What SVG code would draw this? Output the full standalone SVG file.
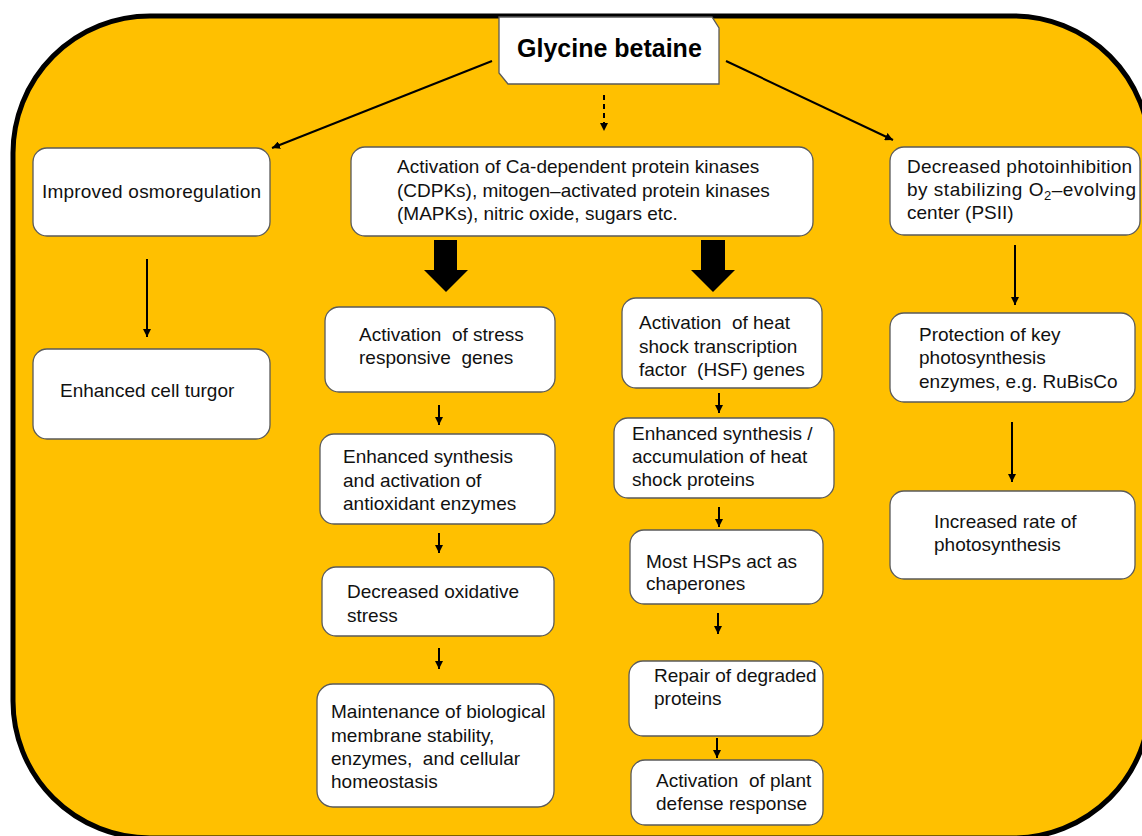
<svg xmlns="http://www.w3.org/2000/svg" width="1142" height="836" viewBox="0 0 1142 836">
<defs>
<style>
.box{fill:#fff;stroke:#5a5a5a;stroke-width:1.3}
.t{font-family:"Liberation Sans",Arial,sans-serif;font-size:19px;fill:#111;white-space:pre}
.title{font-family:"Liberation Sans",Arial,sans-serif;font-size:25px;font-weight:bold;fill:#000}
.ln{stroke:#000;stroke-width:2;fill:none}
.blk{fill:#000}
</style>
<marker id="ah" markerUnits="userSpaceOnUse" markerWidth="9" markerHeight="8" refX="8" refY="4" orient="auto">
<path d="M0,0 L8,4 L0,8 z" fill="#000"/>
</marker>
</defs>
<rect x="0" y="0" width="1142" height="836" fill="#fff"/>
<rect id="frame" x="13" y="16" width="1137" height="822" rx="137" ry="137" fill="#FFC000" stroke="#000" stroke-width="5"/>

<g id="connectors">
<line class="ln" x1="492" y1="61" x2="272" y2="148" stroke-width="1.6" marker-end="url(#ah)"/>
<line class="ln" x1="726" y1="61" x2="893" y2="140" stroke-width="1.6" marker-end="url(#ah)"/>
<line class="ln" x1="604" y1="95" x2="604" y2="131" stroke-dasharray="5,4" stroke-width="1.6" marker-end="url(#ah)"/>
<line class="ln" x1="147" y1="259" x2="147" y2="337" marker-end="url(#ah)"/>
<line class="ln" x1="1015" y1="245" x2="1015" y2="305" marker-end="url(#ah)"/>
<line class="ln" x1="1012" y1="422" x2="1012" y2="482" marker-end="url(#ah)"/>
<line class="ln" x1="439" y1="405" x2="439" y2="425" marker-end="url(#ah)"/>
<line class="ln" x1="439" y1="533" x2="439" y2="553" marker-end="url(#ah)"/>
<line class="ln" x1="439" y1="648" x2="439" y2="669" marker-end="url(#ah)"/>
<line class="ln" x1="719" y1="393" x2="719" y2="413" marker-end="url(#ah)"/>
<line class="ln" x1="719" y1="507" x2="719" y2="527" marker-end="url(#ah)"/>
<line class="ln" x1="718" y1="613" x2="718" y2="634" marker-end="url(#ah)"/>
<line class="ln" x1="717" y1="738" x2="717" y2="758" marker-end="url(#ah)"/>
<polygon class="blk" points="434,240 457,240 457,270 468,270 446,292 424,270 434,270"/>
<polygon class="blk" points="701,240 725,240 725,270 735,270 713,292 691,270 701,270"/>
</g>

<g id="glycine">
<polygon class="box" points="499,17 712,17 719,28 719,84 508,84 499,73"/>
<text class="title" x="517" y="57">Glycine betaine</text>
</g>

<g id="osmo">
<rect class="box" x="33" y="148" width="237" height="88" rx="14"/>
<text class="t" x="42" y="198" textLength="219">Improved osmoregulation</text>
</g>
<g id="turgor">
<rect class="box" x="33" y="349" width="237" height="90" rx="14"/>
<text class="t" x="60" y="397">Enhanced cell turgor</text>
</g>

<g id="ca">
<rect class="box" x="351" y="147" width="462" height="89" rx="14"/>
<text class="t" x="397" y="173">Activation of Ca-dependent protein kinases</text>
<text class="t" x="397" y="197">(CDPKs), mitogen–activated protein kinases</text>
<text class="t" x="397" y="220">(MAPKs), nitric oxide, sugars etc.</text>
</g>

<g id="photo">
<rect class="box" x="890" y="147" width="250" height="88" rx="14"/>
<text class="t" x="907" y="173" textLength="225" lengthAdjust="spacing">Decreased photoinhibition</text>
<text class="t" x="907" y="196" textLength="229" lengthAdjust="spacing">by stabilizing O<tspan font-size="13" dy="4">2</tspan><tspan dy="-4">–evolving</tspan></text>
<text class="t" x="907" y="219">center (PSII)</text>
</g>

<g id="stress">
<rect class="box" x="325" y="307" width="230" height="85" rx="14"/>
<text class="t" x="359" y="341">Activation  of stress</text>
<text class="t" x="359" y="364">responsive  genes</text>
</g>

<g id="heat">
<rect class="box" x="622" y="298" width="200" height="90" rx="14"/>
<text class="t" x="639" y="329">Activation  of heat</text>
<text class="t" x="639" y="353">shock transcription</text>
<text class="t" x="639" y="376">factor  (HSF) genes</text>
</g>

<g id="protect">
<rect class="box" x="890" y="313" width="245" height="89" rx="14"/>
<text class="t" x="919" y="341">Protection of key</text>
<text class="t" x="919" y="364">photosynthesis</text>
<text class="t" x="919" y="388">enzymes, e.g. RuBisCo</text>
</g>

<g id="rate">
<rect class="box" x="890" y="491" width="245" height="88" rx="14"/>
<text class="t" x="934" y="528">Increased rate of</text>
<text class="t" x="934" y="551">photosynthesis</text>
</g>

<g id="antiox">
<rect class="box" x="320" y="434" width="235" height="90" rx="14"/>
<text class="t" x="343" y="463">Enhanced synthesis</text>
<text class="t" x="343" y="487">and activation of</text>
<text class="t" x="343" y="510">antioxidant enzymes</text>
</g>

<g id="oxid">
<rect class="box" x="322" y="567" width="232" height="69" rx="14"/>
<text class="t" x="347" y="598">Decreased oxidative</text>
<text class="t" x="347" y="622">stress</text>
</g>

<g id="maint">
<rect class="box" x="317" y="684" width="237" height="123" rx="16"/>
<text class="t" x="331" y="718">Maintenance of biological</text>
<text class="t" x="331" y="742">membrane stability,</text>
<text class="t" x="331" y="765">enzymes,  and cellular</text>
<text class="t" x="331" y="788">homeostasis</text>
</g>

<g id="hsp-synth">
<rect class="box" x="614" y="418" width="220" height="80" rx="14"/>
<text class="t" x="632" y="440">Enhanced synthesis /</text>
<text class="t" x="632" y="463">accumulation of heat</text>
<text class="t" x="632" y="486">shock proteins</text>
</g>

<g id="chaperones">
<rect class="box" x="630" y="530" width="193" height="74" rx="14"/>
<text class="t" x="646" y="568">Most HSPs act as</text>
<text class="t" x="646" y="590">chaperones</text>
</g>

<g id="repair">
<rect class="box" x="629" y="661" width="194" height="75" rx="14"/>
<text class="t" x="654" y="682">Repair of degraded</text>
<text class="t" x="654" y="705">proteins</text>
</g>

<g id="defense">
<rect class="box" x="631" y="760" width="192" height="65" rx="14"/>
<text class="t" x="656" y="787">Activation  of plant</text>
<text class="t" x="656" y="810">defense response</text>
</g>
</svg>
